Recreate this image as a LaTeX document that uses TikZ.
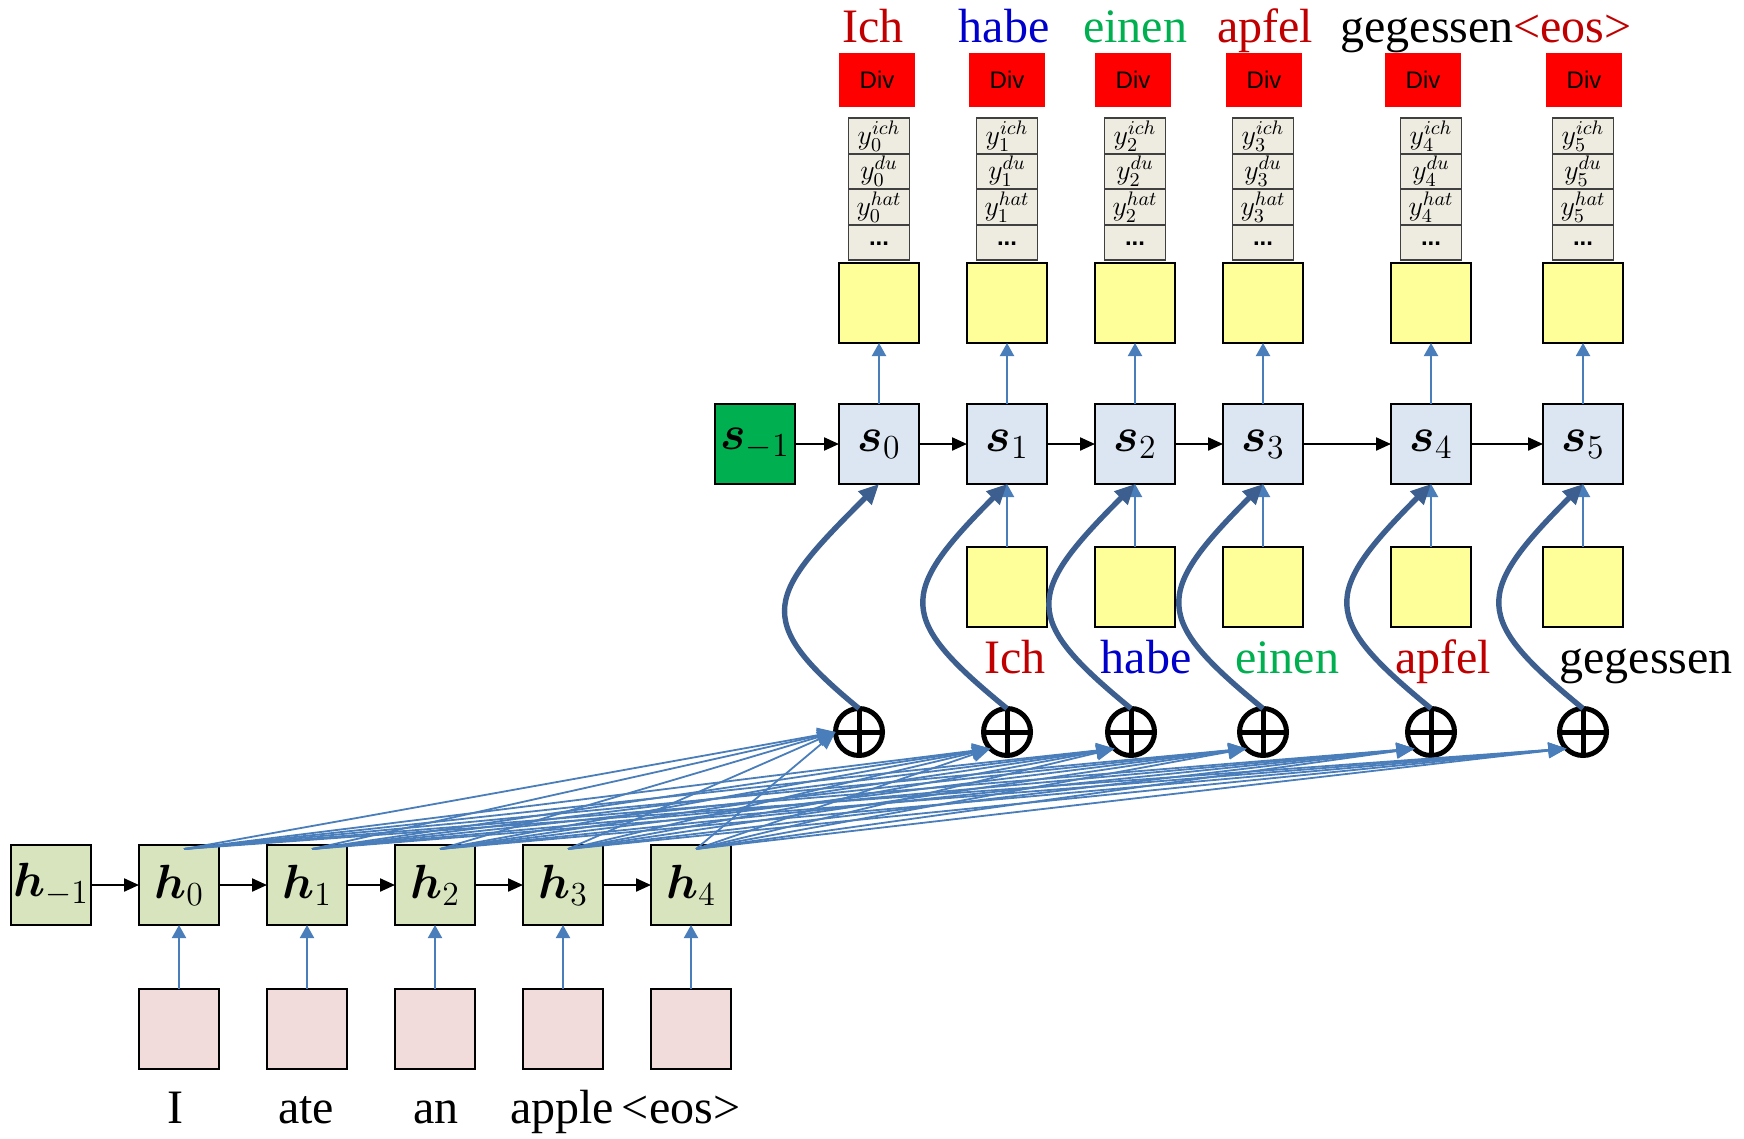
\RequirePackage{fix-cm}
\documentclass[tikz,border=0pt]{standalone}
\usepackage{amsmath,bm}
\usepackage{fontspec}
\setmainfont{Liberation Serif}
\newfontfamily\arialf{Liberation Sans}
\usetikzlibrary{arrows.meta}
\definecolor{hgreen}{HTML}{D7E4BD}
\definecolor{sblue}{HTML}{DCE6F2}
\definecolor{sgreen}{HTML}{00B050}
\definecolor{yel}{HTML}{FFFF99}
\definecolor{pinkb}{HTML}{F2DCDB}
\definecolor{cellbg}{HTML}{EEECE1}
\definecolor{cellbd}{HTML}{404040}
\definecolor{tblue}{HTML}{4A7EBB}
\definecolor{tdark}{HTML}{3C5F8F}
\definecolor{wred}{HTML}{C00000}
\definecolor{wblue}{HTML}{0000CC}
\definecolor{wgreen}{HTML}{00B050}
\begin{document}
\begin{tikzpicture}[x=0.5pt,y=-0.5pt,
  box/.style={draw=black,line width=1pt,minimum width=40pt,minimum height=40pt,inner sep=0pt,outer sep=0pt},
  hbox/.style={box,fill=hgreen,font=\fontsize{24}{28}\selectfont},
  sbox/.style={box,fill=sblue,font=\fontsize{24}{28}\selectfont},
  smbox/.style={box,fill=sgreen,font=\fontsize{24}{28}\selectfont},
  ybox/.style={box,fill=yel,line width=1.3pt},
  pbox/.style={box,fill=pinkb},
  cell/.style={draw=cellbd,line width=0.8pt,fill=cellbg,minimum width=30.5pt,minimum height=17.75pt,inner sep=0pt,outer sep=0pt,font=\fontsize{14}{16}\selectfont},
  divbox/.style={fill=red,minimum width=38pt,minimum height=27pt,inner sep=0pt,font=\arialf\fontsize{12}{14}\selectfont},
  word/.style={anchor=base,inner sep=0pt,font=\fontsize{24}{28}\selectfont},
  oplus/.style={circle,draw=black,line width=2.5pt,minimum size=23.5pt,inner sep=0pt,outer sep=0pt,
    path picture={\draw[line width=2.5pt] (path picture bounding box.west) -- (path picture bounding box.east)
      (path picture bounding box.north) -- (path picture bounding box.south);}},
  blk/.style={-{Triangle[length=7.5pt,width=6.5pt]},line width=1.1pt,draw=black},
  uparr/.style={-{Triangle[length=6.5pt,width=7pt]},line width=1pt,draw=tblue,color=tblue},
  att/.style={-{Triangle[length=9pt,width=7.5pt]},line width=0.9pt,draw=tblue,color=tblue},
  curvearr/.style={-{Triangle[length=10pt,width=9pt]},line width=2.7pt,draw=tdark,color=tdark}
]
\useasboundingbox (0,0) rectangle (1744,1139);

% encoder
\node[hbox] (hm) at (51,885) {$\bm{h}_{-1}$};
\node[hbox] (h0) at (179,885) {$\bm{h}_{0}$};
\node[hbox] (h1) at (307,885) {$\bm{h}_{1}$};
\node[hbox] (h2) at (435,885) {$\bm{h}_{2}$};
\node[hbox] (h3) at (563,885) {$\bm{h}_{3}$};
\node[hbox] (h4) at (691,885) {$\bm{h}_{4}$};
\foreach \i/\x in {0/179,1/307,2/435,3/563,4/691}{
  \node[pbox] (x\i) at (\x,1029) {};
  \draw[uparr] (x\i.north) -- (h\i.south);
}
\draw[blk] (hm.east) -- (h0.west);
\draw[blk] (h0.east) -- (h1.west);
\draw[blk] (h1.east) -- (h2.west);
\draw[blk] (h2.east) -- (h3.west);
\draw[blk] (h3.east) -- (h4.west);

\node[word] (iw0) at (175,1123) {I};
\node[word] (iw1) at (306,1123) {ate};
\node[word] (iw2) at (436,1123) {an};
\node[word] (iw3) at (562,1123) {apple};
\node[word] (iw4) at (681,1123) {<eos>};

% decoder states
\node[smbox] (sm) at (755,444) {$\bm{s}_{-1}$};
\foreach \j/\x in {0/879,1/1007,2/1135,3/1263,4/1431,5/1583}{
  \node[sbox] (s\j) at (\x,444) {$\bm{s}_{\j}$};
  \node[ybox] (o\j) at (\x,303) {};
  \draw[uparr] (s\j.north) -- (o\j.south);
  \node[cell] (p\j a) at (\x,136) {$y_{\j}^{ich}$};
  \node[cell] (p\j b) at (\x,171.5) {$y_{\j}^{du}$};
  \node[cell] (p\j c) at (\x,207) {$y_{\j}^{hat}$};
  \node[cell] (p\j d) at (\x,242.5) {\raisebox{-3pt}{\arialf\bfseries\fontsize{12}{14}\selectfont ...}};
}
\foreach \j/\x in {0/877,1/1007,2/1133,3/1264,4/1423,5/1584}{
  \node[divbox] (v\j) at (\x,80) {Div};
}
\draw[blk] (sm.east) -- (s0.west);
\draw[blk] (s0.east) -- (s1.west);
\draw[blk] (s1.east) -- (s2.west);
\draw[blk] (s2.east) -- (s3.west);
\draw[blk] (s3.east) -- (s4.west);
\draw[blk] (s4.east) -- (s5.west);

% decoder inputs
\foreach \j/\x in {1/1007,2/1135,3/1263,4/1431,5/1583}{
  \node[ybox] (d\j) at (\x,587) {};
  \draw[uparr] (d\j.north) -- (s\j.south);
}

% output words
\node[word,text=wred] (ow0) at (873,43) {Ich};
\node[word,text=wblue] (ow1) at (1004,43) {habe};
\node[word,text=wgreen] (ow2) at (1135,43) {einen};
\node[word,text=wred] (ow3) at (1265,43) {apfel};
\node[word,anchor=base west] (ow4) at (1340,43) {gegessen};
\node[word,anchor=base west,text=wred] (ow5) at (1513,43) {<eos>};

% input words for decoder
\node[word,text=wred] (mw1) at (1015,673) {Ich};
\node[word,text=wblue] (mw2) at (1146,673) {habe};
\node[word,text=wgreen] (mw3) at (1287,673) {einen};
\node[word,text=wred] (mw4) at (1443,673) {apfel};
\node[word] (mw5) at (1646,673) {gegessen};

% oplus nodes
\foreach \j/\x in {0/859,1/1007,2/1131,3/1263,4/1431,5/1583}{
  \node[oplus] (c\j) at (\x,732) {};
}
\coordinate (t0) at (c0.west);
\foreach \j in {1,...,5}{ \coordinate (t\j) at (c\j.south west); }
\foreach \i in {0,...,4}{ \coordinate (a\i) at ([xshift=2.5pt,yshift=-2pt]h\i.north); }
\foreach \j in {0,...,5}{
  \foreach \i in {0,...,4}{
    \draw[att] (a\i) -- (t\j);
  }
}

% curved arrows
\foreach \j in {0,...,5}{
  \draw[curvearr] (c\j.north) .. controls +(-110,-90) and +(-110,110) .. (s\j.south);
}
\end{tikzpicture}
\end{document}
